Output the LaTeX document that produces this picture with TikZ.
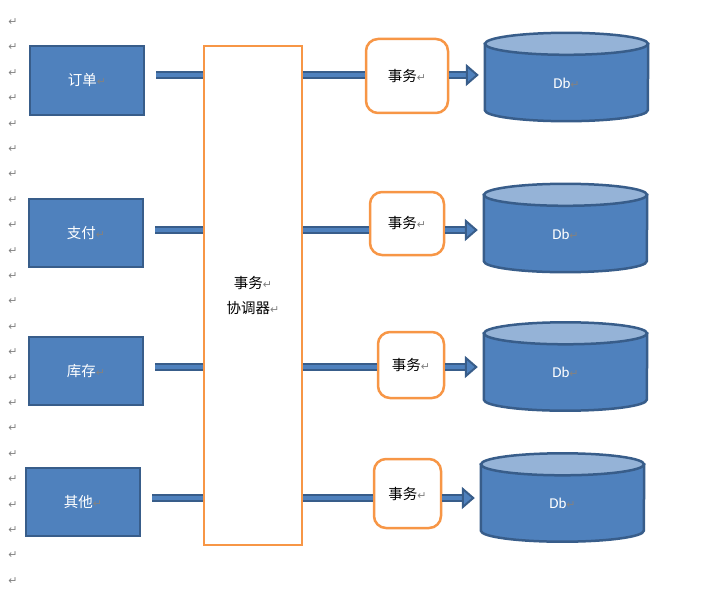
\documentclass[tikz,border=0pt]{standalone}
\usepackage{fontspec}
\setmainfont{Carlito}
\newfontfamily\cjk{Noto Sans CJK SC}
\newfontfamily\markfont{DejaVu Sans}
\usetikzlibrary{arrows.meta,calc}

\definecolor{boxblue}{RGB}{79,129,189}
\definecolor{boxline}{RGB}{56,93,138}
\definecolor{dbtop}{RGB}{149,179,215}
\definecolor{txorange}{RGB}{247,150,70}
\definecolor{markgray}{RGB}{130,130,130}

\newcommand{\pmark}{{\color{markgray}\markfont\fontsize{11}{11}\selectfont ↵}}

\tikzset{
  srcbox/.style={draw=boxline, fill=boxblue, line width=2.4pt, minimum width=114pt,
    minimum height=68pt, inner sep=0pt, text=white, font=\cjk\fontsize{14.5}{16}\selectfont},
  hubbox/.style={draw=txorange, fill=white, line width=2.5pt, minimum width=98pt,
    minimum height=499pt, align=center, font=\cjk\fontsize{14.5}{25}\selectfont},
  txbox/.style={draw=txorange, fill=white, line width=2.5pt, rounded corners=12pt,
    inner sep=0pt, font=\cjk\fontsize{14.5}{16}\selectfont},
  dbbox/.style={minimum width=163pt, minimum height=88pt, inner sep=0pt},
  dbline/.style={draw=boxline, line width=2.5pt},
  dbtext/.style={text=white, font=\fontsize{15}{17}\selectfont, inner sep=0pt},
  bar/.style={draw=boxline, line width=2pt, double=boxblue, double distance=3.5pt},
  bararrow/.style={bar, -{Triangle[length=13pt,width=22pt,fill=boxblue]}},
}

\begin{document}
\begin{tikzpicture}[x=1pt,y=-1pt]
\useasboundingbox (0,0) rectangle (722,596);
% paragraph marks
\foreach \k in {0,...,23}
  \node[inner sep=0pt] at (13,-3.4+25.4*\k) {\pmark};
% rows
\coordinate (r1) at (0,75);
\coordinate (r2) at (0,230);
\coordinate (r3) at (0,367);
\coordinate (r4) at (0,498);
% sources
\node[srcbox, minimum height=69pt] (order) at (87,80.5) {订单\pmark};
\node[srcbox] (pay) at (86,233) {支付\pmark};
\node[srcbox] (stock) at (86,371) {库存\pmark};
\node[srcbox] (other) at (83,502) {其他\pmark};
% coordinator
\node[hubbox] (hub) at (253,295.5) {事务\pmark\\协调器\pmark};
% transactions
\node[txbox, minimum width=82pt, minimum height=74pt] (tx1) at (407,76) {事务\pmark};
\node[txbox, minimum width=74pt, minimum height=63pt] (tx2) at (407,223.5) {事务\pmark};
\node[txbox, minimum width=66pt, minimum height=66pt] (tx3) at (411,365) {事务\pmark};
\node[txbox, minimum width=67pt, minimum height=69pt] (tx4) at (407.5,493.5) {事务\pmark};
% databases
\node[dbbox] (db1) at (566.5,77) {};
\node[dbbox] (db2) at (565.5,228) {};
\node[dbbox] (db3) at (565.5,366.5) {};
\node[dbbox] (db4) at (562.5,497.5) {};
\foreach \d in {db1,db2,db3,db4} {
  \draw[dbline, fill=boxblue] ([yshift=-11pt]\d.north west)
    -- ([yshift=11pt]\d.south west)
    arc[start angle=180, end angle=360, x radius=81.5pt, y radius=11pt]
    -- ([yshift=-11pt]\d.north east) -- cycle;
  \draw[dbline, fill=dbtop] ([yshift=-11pt]\d.north)
    ellipse[x radius=81.5pt, y radius=11pt];
  \node[dbtext] at ([yshift=-6pt]\d.center) {Db\pmark};
}
% bars
\draw[bar] ([xshift=11pt]order.east |- r1) -- (hub.west |- r1);
\draw[bar] ([xshift=11pt]pay.east |- r2) -- (hub.west |- r2);
\draw[bar] ([xshift=11pt]stock.east |- r3) -- (hub.west |- r3);
\draw[bar] ([xshift=11pt]other.east |- r4) -- (hub.west |- r4);
\draw[bar] (hub.east |- r1) -- (tx1.west |- r1);
\draw[bar] (hub.east |- r2) -- (tx2.west |- r2);
\draw[bar] (hub.east |- r3) -- (tx3.west |- r3);
\draw[bar] (hub.east |- r4) -- (tx4.west |- r4);
% arrows
\draw[bararrow] (tx1.east |- r1) -- ([xshift=-6pt]db1.west |- r1);
\draw[bararrow] (tx2.east |- r2) -- ([xshift=-6pt]db2.west |- r2);
\draw[bararrow] (tx3.east |- r3) -- ([xshift=-6pt]db3.west |- r3);
\draw[bararrow] (tx4.east |- r4) -- ([xshift=-6pt]db4.west |- r4);
\end{tikzpicture}
\end{document}
